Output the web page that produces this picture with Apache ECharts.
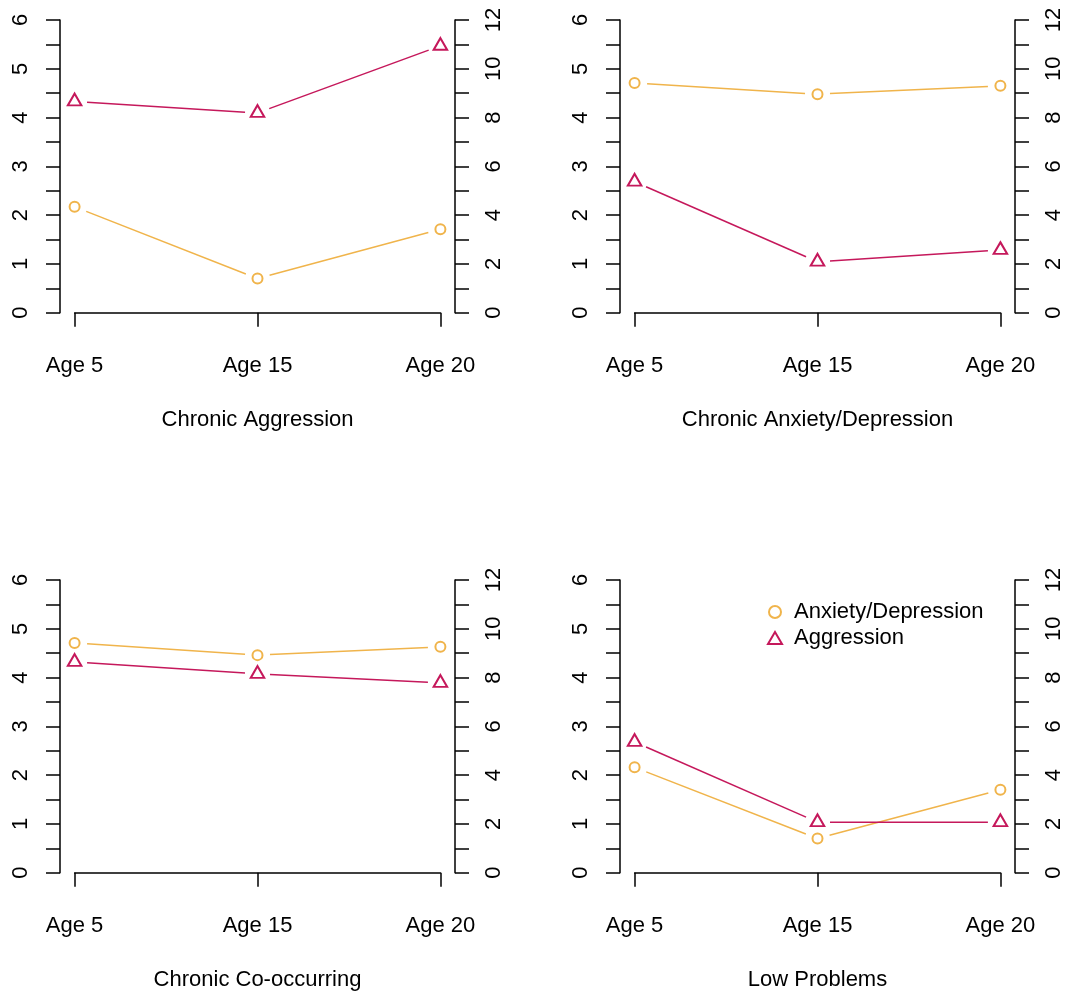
<!DOCTYPE html>
<html>
<head>
<meta charset="utf-8">
<script src="https://cdn.jsdelivr.net/npm/echarts@6/dist/echarts.min.js"></script>
<style>
  html, body { margin: 0; padding: 0; background: #ffffff; }
  #chart { width: 1066px; height: 994px; }
</style>
</head>
<body>
<div id="chart"></div>
<script>
// Categories and panel captions
const ages = ['Age 5', 'Age 15', 'Age 20'];
const panelTitles = ['Chronic Aggression', 'Chronic Anxiety/Depression', 'Chronic Co-occurring', 'Low Problems'];
const seriesNames = ['Anxiety/Depression', 'Aggression'];

// Anxiety/Depression scores (left axis, 0-6) and Aggression scores (right axis, 0-12)
const chronicAggressionAnxDep = [2.17, 0.70, 1.71];
const chronicAggressionAggr = [8.66, 8.19, 10.94];
const chronicAnxDepAnxDep = [4.71, 4.48, 4.65];
const chronicAnxDepAggr = [5.37, 2.09, 2.57];
const coOccurringAnxDep = [4.71, 4.46, 4.63];
const coOccurringAggr = [8.64, 8.15, 7.78];
const lowProblemsAnxDep = [2.16, 0.70, 1.70];
const lowProblemsAggr = [5.36, 2.07, 2.07];

// Axis tick labels
const leftTickLabels = ['0', '1', '2', '3', '4', '5', '6'];
const rightTickLabels = ['0', '2', '4', '6', '8', '10', '12'];

const anxDepByPanel = [chronicAggressionAnxDep, chronicAnxDepAnxDep, coOccurringAnxDep, lowProblemsAnxDep];
const aggrByPanel = [chronicAggressionAggr, chronicAnxDepAggr, coOccurringAggr, lowProblemsAggr];

const ORANGE = '#F0B44B';
const CRIMSON = '#C5185B';
const FONT = '"Liberation Sans", Arial, Helvetica, sans-serif';
const LW = 1.5;
const GAP = 12.5; // blank space left around each point on the connecting lines

const panelOffsets = [[0, 0], [560, 0], [0, 560], [560, 560]];
const PLOT_LEFT = 74.6, PLOT_TOP = 20, PLOT_W = 365.8, PLOT_H = 292.7;
const AXIS_SHIFT_X = 14.6, AXIS_SHIFT_Y = 11.7;

function segmentData(values) {
  const out = [];
  for (let i = 0; i < values.length - 1; i++) out.push([i, values[i], i + 1, values[i + 1]]);
  return out;
}

// connecting segments trimmed at both ends, like an R type="b" plot
function gappedLine(color) {
  return function (params, api) {
    const p0 = api.coord([api.value(0), api.value(1)]);
    const p1 = api.coord([api.value(2), api.value(3)]);
    const dx = p1[0] - p0[0], dy = p1[1] - p0[1];
    const len = Math.hypot(dx, dy);
    if (len <= 2 * GAP) return null;
    const ux = dx / len, uy = dy / len;
    return {
      type: 'line',
      shape: { x1: p0[0] + ux * GAP, y1: p0[1] + uy * GAP, x2: p1[0] - ux * GAP, y2: p1[1] - uy * GAP },
      style: { stroke: color, lineWidth: LW }
    };
  };
}

const grids = [], xAxes = [], yAxes = [], series = [], graphics = [];
const axisLineStyle = { color: '#000', width: LW };
const labelStyle = { color: '#000', fontSize: 22, fontFamily: FONT };

panelOffsets.forEach(function (off, i) {
  const ox = off[0], oy = off[1];
  grids.push({ left: PLOT_LEFT + ox, top: PLOT_TOP + oy, width: PLOT_W, height: PLOT_H, containLabel: false });

  xAxes.push({
    type: 'category', gridIndex: i, data: ages, boundaryGap: false, position: 'bottom', offset: AXIS_SHIFT_Y,
    axisLine: { show: true, lineStyle: axisLineStyle },
    axisTick: { show: true, length: 14, alignWithLabel: true, lineStyle: axisLineStyle },
    axisLabel: Object.assign({ margin: 31, interval: 0 }, labelStyle),
    splitLine: { show: false }
  });

  yAxes.push({
    type: 'value', gridIndex: i, position: 'left', offset: AXIS_SHIFT_X, min: 0, max: 6, interval: 0.5,
    axisLine: { show: true, lineStyle: axisLineStyle },
    axisTick: { show: true, length: 14, lineStyle: axisLineStyle },
    axisLabel: Object.assign({
      rotate: 90, margin: 28,
      formatter: function (v) { return leftTickLabels.indexOf(String(v)) >= 0 ? String(v) : ''; }
    }, labelStyle),
    splitLine: { show: false }
  });
  yAxes.push({
    type: 'value', gridIndex: i, position: 'right', offset: AXIS_SHIFT_X, min: 0, max: 12, interval: 1,
    axisLine: { show: true, lineStyle: axisLineStyle },
    axisTick: { show: true, length: 14, lineStyle: axisLineStyle },
    axisLabel: Object.assign({
      rotate: 90, margin: 28,
      formatter: function (v) { return rightTickLabels.indexOf(String(v)) >= 0 ? String(v) : ''; }
    }, labelStyle),
    splitLine: { show: false }
  });

  const anx = anxDepByPanel[i], agg = aggrByPanel[i];

  series.push({
    type: 'custom', name: seriesNames[0] + ' line', xAxisIndex: i, yAxisIndex: 2 * i,
    data: segmentData(anx), encode: { x: [0, 2], y: [1, 3] },
    renderItem: gappedLine(ORANGE), silent: true
  });
  series.push({
    type: 'scatter', name: seriesNames[0], xAxisIndex: i, yAxisIndex: 2 * i,
    data: anx.map(function (v, k) { return [k, v]; }),
    symbol: 'emptyCircle', symbolSize: 10,
    itemStyle: { color: ORANGE, borderColor: ORANGE, borderWidth: LW, opacity: 1 }, silent: true
  });
  series.push({
    type: 'custom', name: seriesNames[1] + ' line', xAxisIndex: i, yAxisIndex: 2 * i + 1,
    data: segmentData(agg), encode: { x: [0, 2], y: [1, 3] },
    renderItem: gappedLine(CRIMSON), silent: true
  });
  series.push({
    type: 'scatter', name: seriesNames[1], xAxisIndex: i, yAxisIndex: 2 * i + 1,
    data: agg.map(function (v, k) { return [k, v]; }),
    symbol: 'emptyTriangle', symbolSize: [13.5, 11.7], symbolOffset: [0, -1.95],
    itemStyle: { color: CRIMSON, borderColor: CRIMSON, borderWidth: LW, opacity: 1 }, silent: true
  });

  graphics.push({
    type: 'text', x: PLOT_LEFT + PLOT_W / 2 + ox, y: 419.5 + oy,
    style: { text: panelTitles[i], fill: '#000', font: '22px ' + FONT, align: 'center', verticalAlign: 'middle' }
  });
});

const chart = echarts.init(document.getElementById('chart'), null, { renderer: 'canvas' });
chart.setOption({
  animation: false,
  backgroundColor: '#ffffff',
  grid: grids,
  xAxis: xAxes,
  yAxis: yAxes,
  series: series,
  graphic: graphics,
  legend: {
    orient: 'vertical', left: 762, top: 596, itemWidth: 14, itemHeight: 12, itemGap: 4,
    selectedMode: false,
    data: [
      { name: seriesNames[0], icon: 'emptyCircle' },
      { name: seriesNames[1], icon: 'emptyTriangle' }
    ],
    textStyle: { color: '#000', fontSize: 22, fontFamily: FONT, padding: [0, 0, 0, 7] }
  }
});
</script>
</body>
</html>
